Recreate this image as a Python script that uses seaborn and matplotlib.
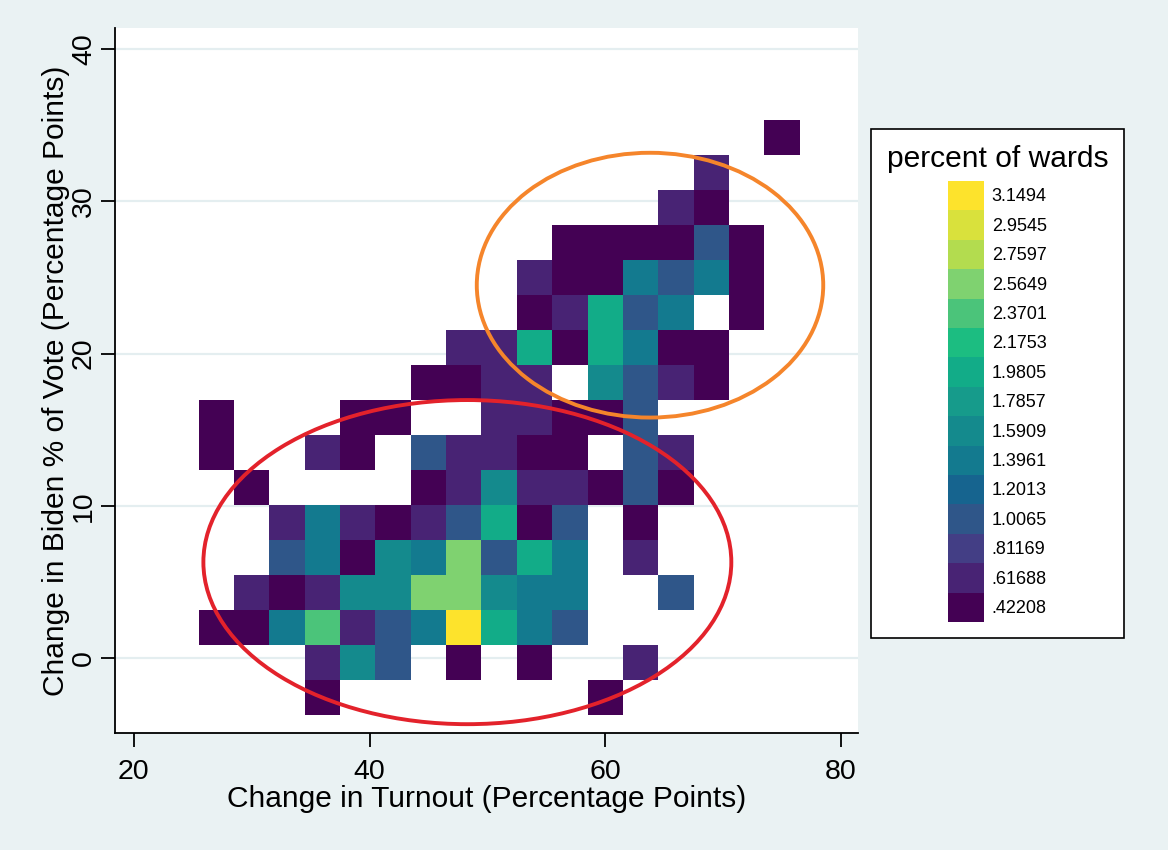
import numpy as np
import pandas as pd
import matplotlib
matplotlib.use("Agg")
import matplotlib.pyplot as plt
from matplotlib import font_manager
from matplotlib.colors import ListedColormap
from matplotlib.patches import Ellipse, Patch
import seaborn as sns

# ---------------- data ----------------
turnout_centers = [27, 30, 33, 36, 39, 42, 45, 48, 51, 54, 57, 60, 63, 66, 69, 72, 75]
biden_centers = [-2.6, -0.3, 2.0, 4.3, 6.6, 8.9, 11.2, 13.5, 15.8, 18.1,
                 20.4, 22.7, 25.0, 27.3, 29.6, 31.9, 34.2]

# percent of wards per cell; rows from top (34.2) to bottom (-2.6), 0 = empty
pct_grid = [
    [0, 0, 0, 0, 0, 0, 0, 0, 0, 0, 0, 0, 0, 0, 0, 0, .42],
    [0, 0, 0, 0, 0, 0, 0, 0, 0, 0, 0, 0, 0, 0, .62, 0, 0],
    [0, 0, 0, 0, 0, 0, 0, 0, 0, 0, 0, 0, 0, .62, .42, 0, 0],
    [0, 0, 0, 0, 0, 0, 0, 0, 0, 0, .42, .42, .42, .42, 1.01, .42, 0],
    [0, 0, 0, 0, 0, 0, 0, 0, 0, .62, .42, .42, 1.40, 1.01, 1.40, .42, 0],
    [0, 0, 0, 0, 0, 0, 0, 0, 0, .42, .62, 1.98, 1.01, 1.40, 0, .42, 0],
    [0, 0, 0, 0, 0, 0, 0, .62, .62, 1.98, .42, 1.98, 1.40, .42, .42, 0, 0],
    [0, 0, 0, 0, 0, 0, .42, .42, .62, .62, 0, 1.59, 1.01, .62, .42, 0, 0],
    [.42, 0, 0, 0, .42, .42, 0, 0, .62, .62, .42, .42, 1.01, 0, 0, 0, 0],
    [.42, 0, 0, .62, .42, 0, 1.01, .62, .62, .42, .42, 0, 1.01, .62, 0, 0, 0],
    [0, .42, 0, 0, 0, 0, .42, .62, 1.59, .62, .62, .42, 1.01, .42, 0, 0, 0],
    [0, 0, .62, 1.40, .62, .42, .62, 1.01, 1.98, .42, 1.01, 0, .42, 0, 0, 0, 0],
    [0, 0, 1.01, 1.40, .42, 1.59, 1.40, 2.56, 1.01, 1.98, 1.40, 0, .62, 0, 0, 0, 0],
    [0, .62, .42, .62, 1.59, 1.59, 2.56, 2.56, 1.59, 1.40, 1.40, 0, 0, 1.01, 0, 0, 0],
    [.42, .42, 1.40, 2.37, .62, 1.01, 1.40, 3.15, 1.98, 1.40, 1.01, 0, 0, 0, 0, 0, 0],
    [0, 0, 0, .62, 1.59, 1.01, 0, .42, 0, .42, 0, 0, .62, 0, 0, 0, 0],
    [0, 0, 0, .42, 0, 0, 0, 0, 0, 0, 0, .42, 0, 0, 0, 0, 0],
]

legend_levels = [.42208, .61688, .81169, 1.0065, 1.2013, 1.3961, 1.5909, 1.7857,
                 1.9805, 2.1753, 2.3701, 2.5649, 2.7597, 2.9545, 3.1494]
legend_labels = [".42208", ".61688", ".81169", "1.0065", "1.2013", "1.3961", "1.5909",
                 "1.7857", "1.9805", "2.1753", "2.3701", "2.5649", "2.7597", "2.9545", "3.1494"]
level_colors = ["#440154", "#482374", "#433e85", "#2f5689", "#16648f", "#137a8f",
                "#148a8d", "#169b8b", "#12ac88", "#1cbd81", "#4bc47a", "#7fd270",
                "#b3dc4f", "#d9e13c", "#fde32c"]

x_ticks = [20, 40, 60, 80]
y_ticks = [0, 10, 20, 30, 40]

# annotation ellipses (centre x, centre y, width, height)
orange_ellipse = (63.8, 24.5, 29.4, 17.4)
red_ellipse = (48.3, 6.3, 44.8, 21.3)

# ---------------- build table ----------------
recs = []
nrows = len(biden_centers)
for i, row in enumerate(pct_grid):
    yc = biden_centers[nrows - 1 - i]
    for j, v in enumerate(row):
        if v > 0:
            recs.append({"turnout": turnout_centers[j], "biden": yc, "pct": v})
df = pd.DataFrame(recs)


def edges(c):
    c = np.asarray(c, dtype=float)
    w = np.diff(c).mean()
    return np.r_[c - w / 2, c[-1] + w / 2]


x_edges = edges(turnout_centers)
y_edges = edges(biden_centers)

step = legend_levels[1] - legend_levels[0]
vmin = legend_levels[0] - step / 2
vmax = legend_levels[-1] + step / 2
cmap = ListedColormap(level_colors)

# ---------------- style ----------------
sns.set_theme(style="white")
names = {f.name for f in font_manager.fontManager.ttflist}
narrow = "Liberation Sans Narrow" in names
plt.rcParams['font.family'] = ['Liberation Sans', 'DejaVu Sans']
plt.rcParams['text.color'] = 'black'
plt.rcParams['axes.labelcolor'] = 'black'
axis_font = ['Liberation Sans Narrow', 'Liberation Sans'] if narrow else ['Liberation Sans']
tick_size = 25 if narrow else 20.5
label_size = 26 if narrow else 21.5

bg = "#eaf2f3"
W, H = 1168, 850
fig = plt.figure(figsize=(W / 100, H / 100), dpi=100, facecolor=bg)
ax = fig.add_axes([115 / W, 1 - 733 / H, (858 - 115) / W, (733 - 28) / H])
ax.set_facecolor("white")

sns.histplot(data=df, x="turnout", y="biden", weights="pct", bins=(x_edges, y_edges),
             cmap=cmap, vmin=vmin, vmax=vmax, ax=ax, cbar=False,
             linewidth=0, edgecolor="face")

ax.set_xlim(18.4, 81.45)
ax.set_ylim(-4.93, 41.4)
ax.set_xticks(x_ticks)
ax.set_yticks(y_ticks)
ax.set_axisbelow(True)
ax.yaxis.grid(True, color="#e4eef0", linewidth=1.6)
ax.xaxis.grid(False)

for s in ["top", "right"]:
    ax.spines[s].set_visible(False)
for s in ["left", "bottom"]:
    ax.spines[s].set_visible(True)
    ax.spines[s].set_color("black")
    ax.spines[s].set_linewidth(1.3)

ax.tick_params(axis="both", direction="out", length=10, width=1.3, color="black",
               labelcolor="black", bottom=True, left=True)
ax.tick_params(axis="x", pad=9)
ax.tick_params(axis="y", pad=3, labelrotation=90)
for t in ax.get_xticklabels():
    t.set_fontfamily(axis_font)
    t.set_fontsize(tick_size)
for t in ax.get_yticklabels():
    t.set_fontfamily(axis_font)
    t.set_fontsize(tick_size)
    t.set_va("center")

ax.set_xlabel("Change in Turnout (Percentage Points)", fontsize=label_size,
              family=axis_font, labelpad=0, color="black")
ax.set_ylabel("Change in Biden % of Vote (Percentage Points)", fontsize=label_size,
              family=axis_font, labelpad=1, color="black")

for (cx, cy, w, h), col in [(orange_ellipse, "#f5852b"), (red_ellipse, "#e3222b")]:
    ax.add_patch(Ellipse((cx, cy), w, h, fill=False, edgecolor=col, linewidth=2.8, zorder=5))

# ---------------- legend ----------------
fs = 13
fpx = fs * 100 / 72
handles = [Patch(facecolor=c, edgecolor="none", linewidth=0) for c in level_colors[::-1]]
leg = fig.legend(handles, legend_labels[::-1], loc="upper left",
                 bbox_to_anchor=(871 / W, 1 - 129 / H), bbox_transform=fig.transFigure,
                 frameon=True, fancybox=False, edgecolor="black", facecolor="white",
                 framealpha=1, title="percent of wards", title_fontsize=21.6,
                 fontsize=fs, handlelength=36 / fpx, handleheight=2.13,
                 labelspacing=0, handletextpad=8 / fpx, borderpad=0.86,
                 borderaxespad=0)
leg._legend_box.sep = 6
leg.get_frame().set_linewidth(1.2)
for t in leg.get_texts():
    t.set_color("black")
leg.get_title().set_color("black")

fig.savefig("out.png", dpi=100, facecolor=bg)
